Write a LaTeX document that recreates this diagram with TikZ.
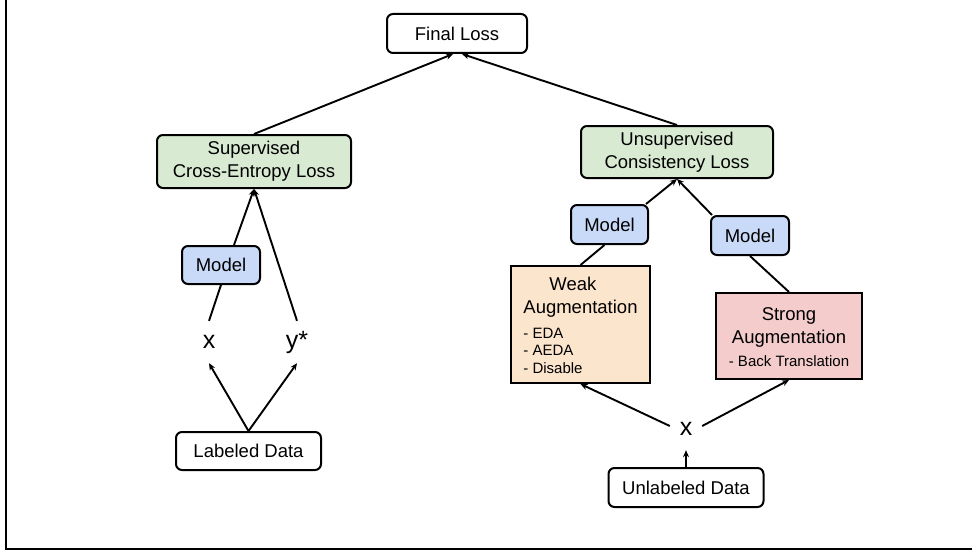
\documentclass[tikz,border=0pt]{standalone}
\usepackage{fontspec}
\setmainfont{Liberation Sans}
\usetikzlibrary{arrows.meta}
\newcommand\bigf{\fontsize{18.5pt}{23pt}\selectfont}
\newcommand\smallf{\fontsize{15pt}{17.5pt}\selectfont}
\newcommand\varf{\fontsize{25pt}{30pt}\selectfont}
\definecolor{lgreen}{HTML}{D9EAD3}
\definecolor{lblue}{HTML}{C9DAF8}
\definecolor{lorange}{HTML}{FCE5CD}
\definecolor{lred}{HTML}{F4CCCC}
\begin{document}
\begin{tikzpicture}[x=1pt,y=-1pt,
  box/.style={draw=black, line width=2pt, font=\bigf, inner sep=0pt, align=center},
  rbox/.style={box, rounded corners=6pt},
  varnode/.style={font=\varf, inner sep=0pt, minimum width=32pt, minimum height=42pt, text height=18pt, text depth=5pt},
  conn/.style={line width=1.9pt, draw=black},
  arr/.style={conn, -{Stealth[length=7pt,width=6pt]}}]
\useasboundingbox (0,0) rectangle (972,551);
\draw[line width=2.5pt] (6,-5) -- (6,549) -- (980,549);

\node[rbox, minimum width=140pt, minimum height=39pt] (fl) at (457,33.5) {Final Loss};
\node[rbox, fill=lgreen, minimum width=194pt, minimum height=53pt] (sup) at (254,161.5) {Supervised\\Cross-Entropy Loss};
\node[rbox, fill=lgreen, minimum width=192pt, minimum height=52pt] (uns) at (677,152) {Unsupervised\\Consistency Loss};
\node[rbox, fill=lblue, minimum width=78pt, minimum height=38pt] (m0) at (221,265) {Model};
\node[varnode] (x1) at (209,342) {x};
\node[varnode] (ys) at (297,342) {y*};
\node[rbox, minimum width=145pt, minimum height=38pt] (lab) at (248.5,451) {Labeled Data};
\node[rbox, fill=lblue, minimum width=77pt, minimum height=39pt] (m1) at (609.5,224.5) {Model};
\node[rbox, fill=lblue, minimum width=78pt, minimum height=39pt] (m2) at (750,235.5) {Model};
\node[box, fill=lorange, minimum width=139pt, minimum height=117pt] (weak) at (580.5,324.5)
  {\raisebox{-2.5pt}[\height][\depth]{\begin{tabular}{@{}l@{}}\hspace*{26pt}Weak\\Augmentation\\[2pt]\smallf - EDA\\[-5.5pt]\smallf - AEDA\\[-5.5pt]\smallf - Disable\end{tabular}}};
\node[box, fill=lred, minimum width=146pt, minimum height=86pt] (strong) at (789,336)
  {\raisebox{-2.5pt}[\height][\depth]{\begin{tabular}{@{}c@{}}Strong\\Augmentation\\\smallf - Back Translation\end{tabular}}};
\node[varnode] (x2) at (686,429) {x};
\node[rbox, minimum width=155pt, minimum height=39pt] (unl) at (686,487.5) {Unlabeled Data};

\draw[arr] (lab.north) -- (x1.south);
\draw[arr] (lab.north) -- (ys.south);
\draw[conn] (x1.north) -- (m0.south);
\draw[arr] ([xshift=13pt]m0.north) -- (sup.south);
\draw[arr] (ys.north) -- (sup.south);
\draw[arr] (sup.north) -- ([xshift=-4pt]fl.south);
\draw[arr] (uns.north) -- ([xshift=5pt]fl.south);
\draw[arr] ([xshift=-3pt]m1.north east) -- (uns.south);
\draw[arr] ([xshift=2pt]m2.north west) -- (uns.south);
\draw[conn] (weak.north) -- ([xshift=-5pt]m1.south);
\draw[conn] (m2.south) -- (strong.north);
\draw[arr] ([yshift=3pt]x2.west) -- (weak.south);
\draw[arr] ([yshift=3pt]x2.east) -- (strong.south);
\draw[arr] (unl.north) -- (x2.south);
\end{tikzpicture}
\end{document}
